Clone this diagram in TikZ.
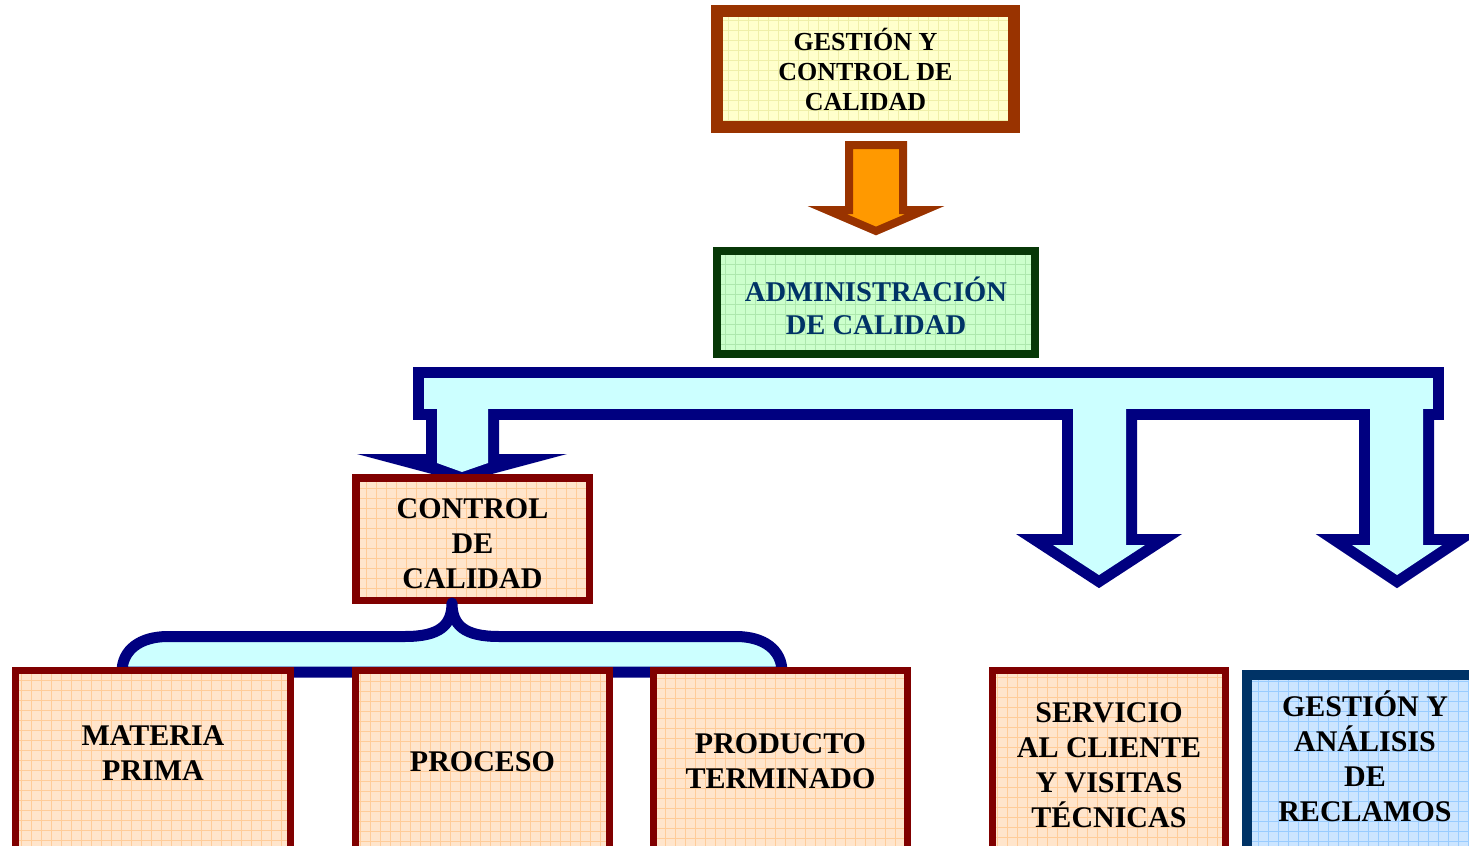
\documentclass[tikz,border=0pt]{standalone}
\usepackage{fontspec}
\setmainfont{Liberation Serif}
\usetikzlibrary{positioning, calc}

\definecolor{brownline}{HTML}{993300}
\definecolor{paleyellow}{HTML}{FFFFCC}
\definecolor{yellowgrid}{HTML}{EFEFA8}
\definecolor{orangefill}{HTML}{FF9900}
\definecolor{darkgreen}{HTML}{073807}
\definecolor{palegreen}{HTML}{CCFFCC}
\definecolor{greengrid}{HTML}{ADE8AD}
\definecolor{admintext}{HTML}{003366}
\definecolor{navyline}{HTML}{000080}
\definecolor{palecyan}{HTML}{CCFFFF}
\definecolor{darkred}{HTML}{800000}
\definecolor{peach}{HTML}{FFE5CC}
\definecolor{peachgrid}{HTML}{FFCC99}
\definecolor{blueline}{HTML}{003366}
\definecolor{paleblue}{HTML}{CCE5FF}
\definecolor{bluegrid}{HTML}{99CCFF}

% struts to place the text inside the boxes
\newcommand\capstrut{\rule{0pt}{16pt}}
\newcommand\lowstrut[1]{\rule[-#1]{0pt}{0pt}}

\begin{document}
\begin{tikzpicture}[x=0.5pt, y=-0.5pt,
  box/.style={draw, inner sep=0pt, align=center},
  grid fill/.style 2 args={fill=#1, path picture={
      \draw[#2, line width=0.35pt, step=5pt] (path picture bounding box.south west) grid (path picture bounding box.north east);}},
  peachbox/.style={box, draw=darkred, line width=3.5pt, grid fill={peach}{peachgrid},
      font=\fontsize{15}{17.5}\selectfont\bfseries},
  blockline/.style={navyline, line width=11pt, line join=miter},
  blockfill/.style={palecyan}]
\useasboundingbox (0,0) rectangle (1469,846);

% top box and orange arrow
\node[box, draw=brownline, line width=6pt, grid fill={paleyellow}{yellowgrid},
      minimum width=148.5pt, minimum height=58pt,
      font=\fontsize{13}{15}\selectfont\bfseries] (gestion) at (865.5,69)
      {\capstrut GESTIÓN Y\\CONTROL DE\\CALIDAD\lowstrut{4.5pt}};
\draw[brownline, fill=orangefill, line width=4pt, line join=miter]
    (849,145) -- (903,145) -- (903,210) -- (925,210) -- (876,231) -- (827,210) -- (849,210) -- cycle;

\node[box, draw=darkgreen, line width=4pt, grid fill={palegreen}{greengrid},
      minimum width=159pt, minimum height=51.5pt, text=admintext,
      font=\fontsize{14.3}{16.5}\selectfont\bfseries] (admin) at (876,302.5)
      {\capstrut ADMINISTRACIÓN\\DE CALIDAD\lowstrut{0.6pt}};

% blue bar with the three arrows: borders first, then fills
\draw[blockline] (424,378) rectangle (1433,409);
\draw[blockline] (437,400) -- (437,463) -- (462,472) -- (488,463) -- (488,400) -- cycle;
\draw[blockline] (1073,400) -- (1073,545) -- (1053,545) -- (1099,575) -- (1145,545) -- (1126,545) -- (1126,400) -- cycle;
\draw[blockline] (1370,400) -- (1370,545) -- (1352,545) -- (1397,575) -- (1442,545) -- (1423,545) -- (1423,400) -- cycle;
\fill[navyline] (357,454) -- (567,454) -- (462,482) -- cycle;
\fill[blockfill] (424,378) rectangle (1433,409);
\fill[blockfill] (437,400) -- (437,463) -- (462,472) -- (488,463) -- (488,400) -- cycle;
\fill[blockfill] (1073,400) -- (1073,545) -- (1053,545) -- (1099,575) -- (1145,545) -- (1126,545) -- (1126,400) -- cycle;
\fill[blockfill] (1370,400) -- (1370,545) -- (1352,545) -- (1397,575) -- (1442,545) -- (1423,545) -- (1423,400) -- cycle;

\node[peachbox, line width=3.75pt, minimum width=116.75pt, minimum height=61.25pt] (control) at (472.5,539)
      {\capstrut CONTROL\\DE\\CALIDAD\lowstrut{1.2pt}};

% brace under control box
\draw[navyline, fill=palecyan, line width=5.5pt, line join=round]
    (122,672) .. controls (122,650) and (140,636.5) .. (168,636.5) -- (405,636.5)
    .. controls (440,636.5) and (452,625) .. (452,603)
    .. controls (452,625) and (464,636.5) .. (499,636.5) -- (736,636.5)
    .. controls (764,636.5) and (782,650) .. (782,672) -- cycle;

% bottom row
\node[peachbox, minimum width=137.5pt, minimum height=90pt] (materia) at (153,760)
      {\capstrut MATERIA\\PRIMA\lowstrut{12.7pt}};
\node[peachbox, minimum width=127pt, minimum height=90pt] (proceso) at (482.5,760)
      {\capstrut PROCESO\lowstrut{4.2pt}};
\node[peachbox, minimum width=127pt, minimum height=90pt] (producto) at (780.5,760)
      {\capstrut PRODUCTO\\TERMINADO\lowstrut{4.7pt}};
\node[peachbox, minimum width=116.5pt, minimum height=90pt] (servicio) at (1109,760)
      {\capstrut SERVICIO\\AL CLIENTE\\Y VISITAS\\TÉCNICAS\lowstrut{0.7pt}};
\node[box, draw=blueline, line width=5pt, grid fill={paleblue}{bluegrid},
      minimum width=118pt, minimum height=91pt,
      font=\fontsize{15}{17.5}\selectfont\bfseries] (reclamos) at (1365,766)
      {\capstrut GESTIÓN Y\\ANÁLISIS\\DE\\RECLAMOS\lowstrut{12.7pt}};
\end{tikzpicture}
\end{document}
